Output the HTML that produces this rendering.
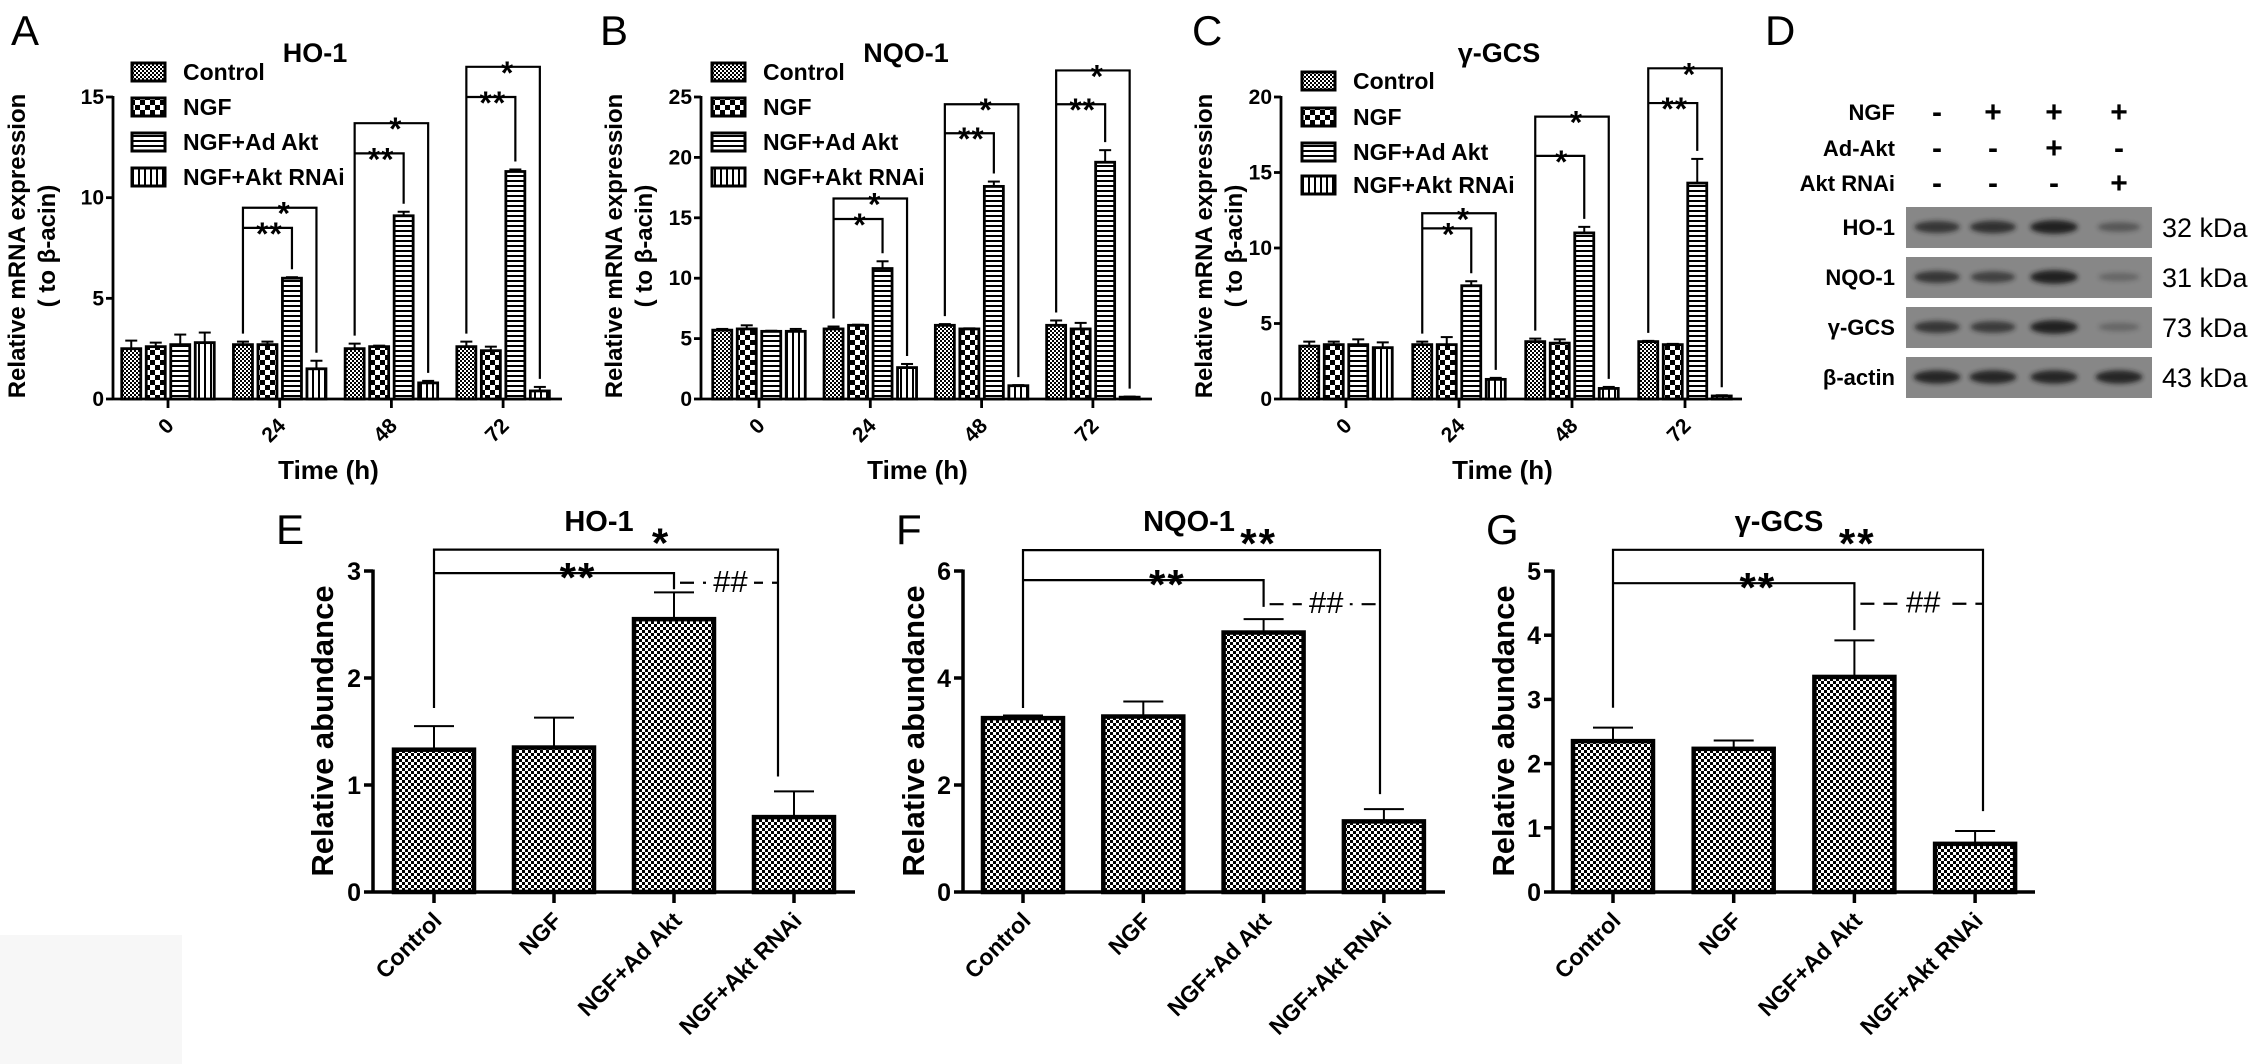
<!DOCTYPE html>
<html><head><meta charset="utf-8"><style>
html,body{margin:0;padding:0;background:#fff;}
svg{display:block;font-family:"Liberation Sans",Arial,sans-serif;}
</style></head><body>
<svg id="fig" xmlns="http://www.w3.org/2000/svg" width="2268" height="1064" viewBox="0 0 2268 1064">
<defs>
<pattern id="pCtrl" width="4" height="4" patternUnits="userSpaceOnUse"><rect width="4" height="4" fill="#fff"/><rect width="2" height="2" fill="#000"/><rect x="2" y="2" width="2" height="2" fill="#000"/></pattern>
<pattern id="pNgf" width="10" height="10" patternUnits="userSpaceOnUse"><rect width="10" height="10" fill="#fff"/><rect width="5" height="5" fill="#000"/><rect x="5" y="5" width="5" height="5" fill="#000"/></pattern>
<pattern id="pAd" width="5" height="5" patternUnits="userSpaceOnUse"><rect width="5" height="5" fill="#fff"/><rect width="5" height="2" fill="#000"/></pattern>
<pattern id="pRnai" width="6" height="6" patternUnits="userSpaceOnUse"><rect width="6" height="6" fill="#fff"/><rect width="2" height="6" fill="#000"/></pattern>
<pattern id="pBig" width="6" height="6" patternUnits="userSpaceOnUse"><rect width="6" height="6" fill="#fff"/><rect width="3" height="3" fill="#000"/><rect x="3" y="3" width="3" height="3" fill="#000"/></pattern>
<filter id="blur" x="-20%" y="-50%" width="140%" height="200%"><feGaussianBlur stdDeviation="2.5"/></filter>
</defs>
<rect x="0" y="935" width="182" height="129" fill="#f7f7f7"/>
</svg>
<script>
// ---------- data: top panels (qPCR) ----------
const timeGroups = ["0", "24", "48", "72"];
const seriesNames = ["Control", "NGF", "NGF+Ad Akt", "NGF+Akt RNAi"];
const hoMean = [[2.5, 2.6, 2.7, 2.8], [2.7, 2.7, 6.0, 1.5], [2.5, 2.6, 9.1, 0.8], [2.6, 2.4, 11.3, 0.4]];
const hoErr = [[2.9, 2.8, 3.2, 3.3], [2.85, 2.85, 6.05, 1.9], [2.75, 2.65, 9.3, 0.9], [2.85, 2.6, 11.4, 0.6]];
const nqoMean = [[5.7, 5.8, 5.6, 5.6], [5.8, 6.1, 10.8, 2.6], [6.1, 5.8, 17.6, 1.1], [6.1, 5.8, 19.6, 0.15]];
const nqoErr = [[5.8, 6.1, 5.65, 5.8], [6.0, 6.15, 11.4, 2.9], [6.2, 5.85, 18.0, 1.15], [6.5, 6.3, 20.6, 0.2]];
const gcsMean = [[3.5, 3.6, 3.6, 3.4], [3.6, 3.6, 7.5, 1.3], [3.8, 3.7, 11.0, 0.7], [3.8, 3.6, 14.3, 0.2]];
const gcsErr = [[3.8, 3.8, 3.95, 3.75], [3.8, 4.1, 7.8, 1.4], [4.0, 3.95, 11.4, 0.8], [3.85, 3.65, 15.9, 0.25]];
const hoBracketLevels = [[9.5, 8.5], [13.7, 12.2], [16.5, 15.0]];
const nqoBracketLevels = [[16.6, 14.9], [24.4, 22.0], [27.2, 24.4]];
const gcsBracketLevels = [[12.3, 11.3], [18.7, 16.1], [21.9, 19.6]];
const hoBracketLabels = [["*", "**"], ["*", "**"], ["*", "**"]];
const nqoBracketLabels = [["*", "*"], ["*", "**"], ["*", "**"]];
const gcsBracketLabels = [["*", "*"], ["*", "*"], ["*", "**"]];
const hoTicks = [0, 5, 10, 15];
const nqoTicks = [0, 5, 10, 15, 20, 25];
const gcsTicks = [0, 5, 10, 15, 20];
// ---------- data: bottom panels (western quantification) ----------
const wbCategories = ["Control", "NGF", "NGF+Ad Akt", "NGF+Akt RNAi"];
const eMean = [1.33, 1.35, 2.55, 0.70];
const eErr = [1.55, 1.63, 2.80, 0.94];
const fMean = [3.25, 3.28, 4.85, 1.32];
const fErr = [3.30, 3.56, 5.10, 1.55];
const gMean = [2.35, 2.23, 3.35, 0.75];
const gErr = [2.56, 2.36, 3.92, 0.95];
const eTicks = [0, 1, 2, 3];
const fTicks = [0, 2, 4, 6];
const gTicks = [0, 1, 2, 3, 4, 5];
const eSig = [3.2, 2.98, 2.89, 1.72, 1.08, 2.83];
const fSig = [6.39, 5.83, 5.38, 3.44, 1.83, 5.33];
const gSig = [5.33, 4.81, 4.49, 2.87, 1.26, 4.08];
const eSigLabels = ["*", "**", "##"];
const fSigLabels = ["**", "**", "##"];
const gSigLabels = ["**", "**", "##"];
// ---------- data: blot ----------
const lanes = ["1", "2", "3", "4"];
const ngfSigns = ["-", "+", "+", "+"];
const adSigns = ["-", "-", "+", "-"];
const rnaiSigns = ["-", "-", "-", "+"];
const blotRows = ["HO-1", "NQO-1", "γ-GCS", "β-actin"];
const blotKda = ["32 kDa", "31 kDa", "73 kDa", "43 kDa"];
const hoBand = [0.75, 0.8, 0.95, 0.45];
const nqoBand = [0.75, 0.65, 0.95, 0.3];
const gcsBand = [0.75, 0.7, 0.95, 0.3];
const actinBand = [0.9, 0.9, 0.9, 0.9];

const NS = "http://www.w3.org/2000/svg";
const svg = document.getElementById("fig");
function mk(tag, attrs, parent) {
  const e = document.createElementNS(NS, tag);
  for (const k in attrs) e.setAttribute(k, attrs[k]);
  (parent || svg).appendChild(e);
  return e;
}
function txt(str, x, y, size, weight, anchor, parent, extra) {
  const t = mk("text", Object.assign({x: x, y: y, "font-size": size, "font-weight": weight, "text-anchor": anchor, fill: "#000"}, extra || {}), parent);
  t.textContent = str;
  return t;
}
const fills = ["url(#pCtrl)", "url(#pNgf)", "url(#pAd)", "url(#pRnai)"];

function drawTop(cfg) {
  const g = mk("g", {});
  
  
  const ppu = (cfg.y0 - cfg.yTopPx) / cfg.ticks[cfg.ticks.length - 1];
  const ys = v => cfg.y0 - v * ppu;
  const xs = (gi, si) => cfg.first + gi * cfg.step + (si - 1.5) * 24.5;
  const ya = mk("line", {x1: cfg.ax, y1: cfg.yTopPx - 1, x2: cfg.ax, y2: cfg.y0, stroke: "#000", "stroke-width": 2.8}, g);
  
  
  const xa = mk("line", {x1: cfg.ax, y1: cfg.y0, x2: cfg.end, y2: cfg.y0, stroke: "#000", "stroke-width": 2.8}, g);
  
  
  cfg.ticks.forEach(t => {
    mk("line", {x1: cfg.ax - 7, y1: ys(t), x2: cfg.ax, y2: ys(t), stroke: "#000", "stroke-width": 2.8}, g);
    const tl = txt(String(t), cfg.ax - 9, ys(t) + 7, 21, "bold", "end", g);
    
    
  });
  timeGroups.forEach((lab, gi) => {
    const cx = cfg.first + gi * cfg.step;
    mk("line", {x1: cx, y1: cfg.y0, x2: cx, y2: cfg.y0 + 9, stroke: "#000", "stroke-width": 2.8}, g);
    const tl = txt(lab, 0, 0, 21, "bold", "end", g, {transform: "translate(" + (cx + 7) + "," + (cfg.y0 + 28) + ") rotate(-45)"});
    
    
    seriesNames.forEach((s, si) => {
      const v = cfg.mean[gi][si], e = cfg.err[gi][si];
      const bx = xs(gi, si);
      const el = mk("line", {x1: bx, y1: ys(v), x2: bx, y2: ys(e), stroke: "#000", "stroke-width": 2}, g);
      
      
      mk("line", {x1: bx - 6, y1: ys(e), x2: bx + 6, y2: ys(e), stroke: "#000", "stroke-width": 2}, g);
      const r = mk("rect", {x: bx - 9.5, y: ys(v), width: 19, height: Math.max(1, cfg.y0 - ys(v)), fill: fills[si], stroke: "#000", "stroke-width": 2.8}, g);
      
      
    });
  });
  cfg.levels.forEach((lv, k) => {
    const gi = k + 1;
    const lx = xs(gi, 0), ax = xs(gi, 2), rx = xs(gi, 3);
    const yo = ys(lv[0]), yi = ys(lv[1]);
    const p = mk("path", {d: "M" + lx + "," + (ys(cfg.err[gi][0]) - 8) + " V" + yo + " H" + rx + " V" + (ys(cfg.err[gi][3]) - 8) +
      " M" + lx + "," + yi + " H" + ax + " V" + (ys(cfg.err[gi][2]) - 8), fill: "none", stroke: "#000", "stroke-width": 2.2}, g);
    
    
    const s1 = txt(cfg.labels[k][0], (lx + rx) / 2 + 4, yo + 17, 32, "bold", "middle", g);
    
    
    const s2 = txt(cfg.labels[k][1], (lx + ax) / 2 + 2, yi + 17, 32, "bold", "middle", g, {"letter-spacing": "1"});
    
    
  });
  seriesNames.forEach((s, si) => {
    const cy = cfg.legRows[si];
    const sw = mk("rect", {x: cfg.legX, y: cy - 9, width: 33, height: 18, fill: fills[si], stroke: "#000", "stroke-width": 3}, g);
    
    
    const lt = txt(s, cfg.legX + 51, cy + 8, 23, "bold", "start", g);
    
    
  });
  const ti = txt(cfg.title, cfg.titleX, 62, 27, "bold", "middle", g);
  
  
  const pl = txt(cfg.letter, cfg.letterX, 45, 42, "normal", "start", g);
  
  
  const yl1 = txt("Relative mRNA expression", 0, 0, 24, "bold", "middle", g, {transform: "translate(" + (cfg.ylx + 8) + ",246) rotate(-90)"});
  
  
  const yl2 = txt("( to β-acin)", 0, 0, 24, "bold", "middle", g, {transform: "translate(" + (cfg.ylx + 38) + ",246) rotate(-90)"});
  
  
  const xt = txt("Time (h)", (cfg.ax + cfg.end) / 2 - 9, 479, 26, "bold", "middle", g);
  
  
}

drawTop({name: "chart-a-ho1", ax: 113, y0: 399, yTopPx: 97, end: 562, first: 168, step: 111.7, ticks: hoTicks,
  mean: hoMean, err: hoErr, levels: hoBracketLevels, labels: hoBracketLabels, legX: 132, legRows: [72, 107, 142, 177],
  title: "HO-1", titleX: 315, letter: "A", letterX: 11, ylx: 17});
drawTop({name: "chart-b-nqo1", ax: 701, y0: 399, yTopPx: 97, end: 1152, first: 759, step: 111.3, ticks: nqoTicks,
  mean: nqoMean, err: nqoErr, levels: nqoBracketLevels, labels: nqoBracketLabels, legX: 712, legRows: [72, 107, 142, 177],
  title: "NQO-1", titleX: 906, letter: "B", letterX: 600, ylx: 614});
drawTop({name: "chart-c-gcs", ax: 1281, y0: 399, yTopPx: 97, end: 1742, first: 1346, step: 113, ticks: gcsTicks,
  mean: gcsMean, err: gcsErr, levels: gcsBracketLevels, labels: gcsBracketLabels, legX: 1302, legRows: [81, 117, 152, 185],
  title: "γ-GCS", titleX: 1499, letter: "C", letterX: 1192, ylx: 1204});

function drawBottom(cfg) {
  const g = mk("g", {});
  
  
  const y0 = 892, yTop = 571;
  const ppu = (y0 - yTop) / cfg.ticks[cfg.ticks.length - 1];
  const ys = v => y0 - v * ppu;
  const xs = i => cfg.first + i * cfg.step;
  const ya = mk("line", {x1: cfg.ax, y1: yTop - 1.5, x2: cfg.ax, y2: y0, stroke: "#000", "stroke-width": 3.5}, g);
  
  
  const xa = mk("line", {x1: cfg.ax, y1: y0, x2: cfg.end, y2: y0, stroke: "#000", "stroke-width": 3.5}, g);
  
  
  cfg.ticks.forEach(t => {
    mk("line", {x1: cfg.ax - 9, y1: ys(t), x2: cfg.ax, y2: ys(t), stroke: "#000", "stroke-width": 3.5}, g);
    const tl = txt(String(t), cfg.ax - 12, ys(t) + 9, 25, "bold", "end", g);
    
    
  });
  wbCategories.forEach((c, i) => {
    const cx = xs(i);
    const v = cfg.mean[i], e = cfg.err[i];
    mk("line", {x1: cx, y1: y0, x2: cx, y2: y0 + 11, stroke: "#000", "stroke-width": 3.5}, g);
    const el = mk("line", {x1: cx, y1: ys(v), x2: cx, y2: ys(e), stroke: "#000", "stroke-width": 2}, g);
    
    
    mk("line", {x1: cx - 20, y1: ys(e), x2: cx + 20, y2: ys(e), stroke: "#000", "stroke-width": 2}, g);
    const r = mk("rect", {x: cx - 40, y: ys(v), width: 80, height: y0 - ys(v), fill: "url(#pBig)", stroke: "#000", "stroke-width": 4.5}, g);
    
    
    const tl = txt(c, 0, 0, 23, "bold", "end", g, {transform: "translate(" + (cx + 9) + "," + (y0 + 30) + ") rotate(-45)"});
    
    
  });
  const L = xs(0), A = xs(2), R = cfg.rightX;
  const s = cfg.sig;
  const p = mk("path", {d: "M" + L + "," + ys(s[3]) + " V" + ys(s[0]) + " H" + R + " V" + ys(s[4]) +
    " M" + L + "," + ys(s[1]) + " H" + A + " V" + ys(s[5]), fill: "none", stroke: "#000", "stroke-width": 2.2}, g);
  
  
  const d = mk("line", {x1: A + 6, y1: ys(s[2]), x2: R, y2: ys(s[2]), stroke: "#000", "stroke-width": 2.2, "stroke-dasharray": "14,9"}, g);
  
  
  const l1 = txt(cfg.labels[0], L + 0.66 * (R - L), ys(s[0]) + 8, 42, "bold", "middle", g, {"letter-spacing": "2"});
  
  
  const l2 = txt(cfg.labels[1], L + 0.6 * (A - L), ys(s[1]) + 19, 42, "bold", "middle", g, {"letter-spacing": "2"});
  
  
  const hx = (A + R) / 2 + 4;
  mk("rect", {x: hx - 24, y: ys(s[2]) - 4, width: 48, height: 8, fill: "#fff"}, g);
  const l3 = txt(cfg.labels[2], hx, ys(s[2]) + 9, 31, "normal", "middle", g, {"font-style": "italic"});
  
  
  const ti = txt(cfg.title, cfg.titleX, 531, 29, "bold", "middle", g);
  
  
  const pl = txt(cfg.letter, cfg.letterX, 544, 42, "normal", "start", g);
  
  
  const yl = txt("Relative abundance", 0, 0, 31, "bold", "middle", g, {transform: "translate(" + (cfg.ylx + 11) + ",731) rotate(-90)"});
  
  
}

drawBottom({name: "chart-e-ho1", ax: 373, first: 434, step: 120, end: 855, ticks: eTicks, mean: eMean, err: eErr,
  sig: eSig, labels: eSigLabels, rightX: 778, title: "HO-1", titleX: 599, letter: "E", letterX: 276, ylx: 322});
drawBottom({name: "chart-f-nqo1", ax: 963, first: 1023, step: 120.3, end: 1445, ticks: fTicks, mean: fMean, err: fErr,
  sig: fSig, labels: fSigLabels, rightX: 1380, title: "NQO-1", titleX: 1189, letter: "F", letterX: 896, ylx: 913});
drawBottom({name: "chart-g-gcs", ax: 1553, first: 1613, step: 120.7, end: 2035, ticks: gTicks, mean: gMean, err: gErr,
  sig: gSig, labels: gSigLabels, rightX: 1983, title: "γ-GCS", titleX: 1779, letter: "G", letterX: 1486, ylx: 1503});

// ---------- panel D: western blot ----------
const gd = mk("g", {});


const laneX = [1937, 1993, 2054, 2119];
const pdl = txt("D", 1765, 45, 42, "normal", "start", gd);


const signRows = [["NGF", ngfSigns, 112], ["Ad-Akt", adSigns, 148], ["Akt RNAi", rnaiSigns, 183]];
signRows.forEach(r => {
  const lt = txt(r[0], 1895, r[2] + 8, 22, "bold", "end", gd);
  
  
  r[1].forEach((sg, i) => {
    const st = txt(sg, laneX[i], r[2] + 10, 30, "bold", "middle", gd);
    
    
  });
});
const bandSets = [hoBand, nqoBand, gcsBand, actinBand];
blotRows.forEach((rn, ri) => {
  const top = 207 + ri * 50;
  const box = mk("rect", {x: 1906, y: top, width: 246, height: 41, fill: "#878787"}, gd);
  
  
  bandSets[ri].forEach((b, i) => {
    const band = mk("ellipse", {cx: laneX[i], cy: top + 20, rx: 19 + b * 5, ry: 3 + b * 4, fill: "#1a1a1a", opacity: b, filter: "url(#blur)"}, gd);
    
    
  });
  const lt = txt(rn, 1895, top + 28, 22, "bold", "end", gd);
  
  
  const kt = txt(blotKda[ri], 2162, top + 30, 27, "normal", "start", gd);
  
  
});
</script>
</body></html>
